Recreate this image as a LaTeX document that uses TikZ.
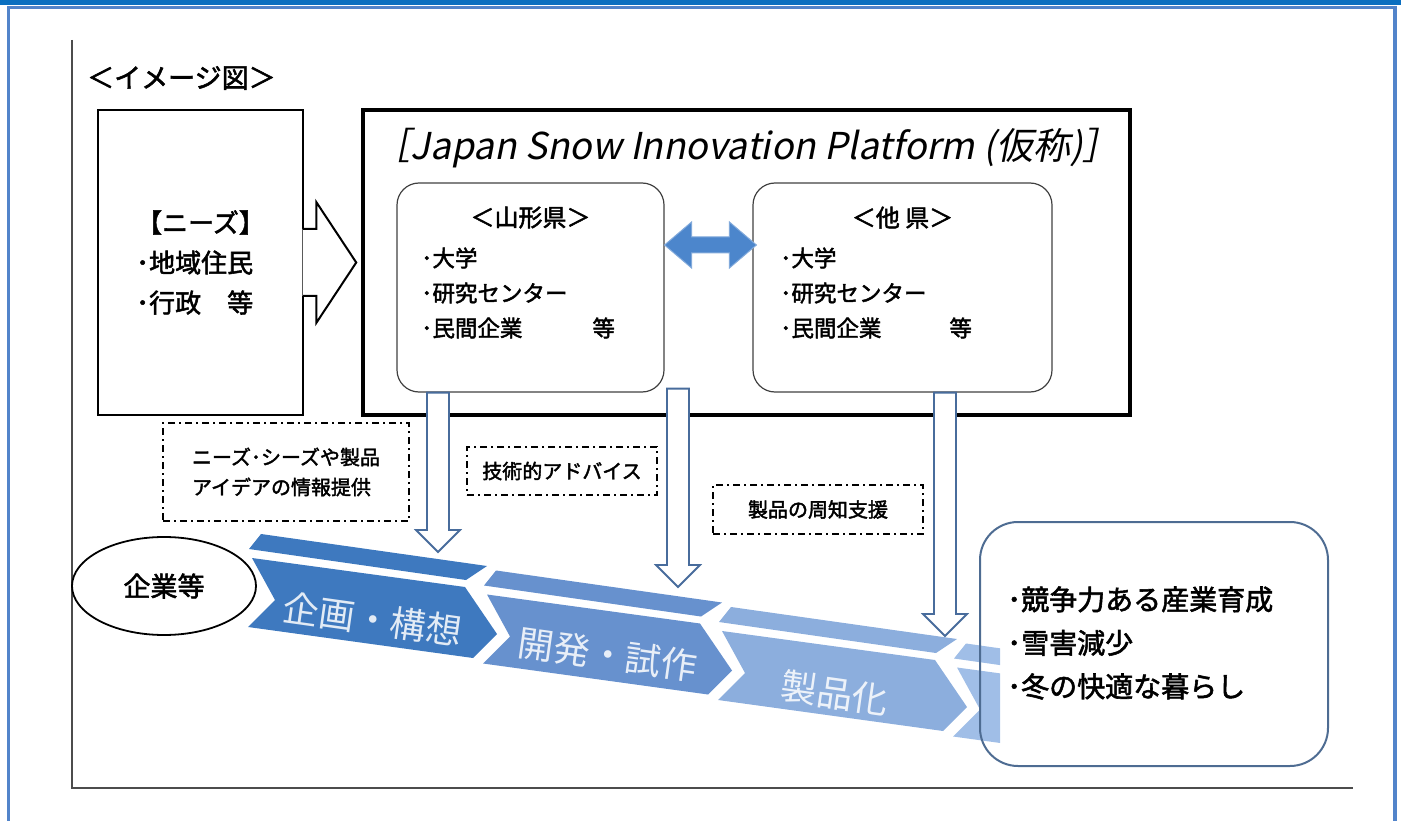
\documentclass[tikz,border=0pt]{standalone}
\usepackage{fontspec}
\setmainfont{Noto Sans CJK JP}
\newfontfamily\slantjp[FakeSlant=0.2]{Noto Sans CJK JP}
\newfontfamily\heavyjp[FakeBold=2]{Noto Sans CJK JP}
\usetikzlibrary{positioning,calc,shapes.geometric}

\definecolor{barblue}{RGB}{10,111,192}
\definecolor{frameblue}{RGB}{82,132,202}
\definecolor{chevA}{RGB}{62,121,191}
\definecolor{chevB}{RGB}{103,145,206}
\definecolor{chevC}{RGB}{140,174,221}
\definecolor{chevD}{RGB}{160,190,231}
\definecolor{arrowline}{RGB}{72,108,156}
\definecolor{linkblue}{RGB}{76,134,204}
\definecolor{resline}{RGB}{78,108,146}

\newcommand\hollowdown[2]{%
  \draw[hollowarrow] ($(#1)+(-11,0)$) -- ($(#2)+(-11,-22)$) -- ($(#2)+(-22,-22)$) -- (#2)
    -- ($(#2)+(22,-22)$) -- ($(#2)+(11,-22)$) -- ($(#1)+(11,0)$) -- cycle;}

\tikzset{
  needbox/.style={draw, line width=2pt, minimum width=205pt, minimum height=305pt, align=left, inner sep=0pt, font=\heavyjp\fontsize{26}{40}\selectfont},
  platbox/.style={draw, line width=3.5pt, minimum width=767pt, minimum height=305pt},
  prefbox/.style={draw=black!75, line width=1.2pt, rounded corners=22pt, minimum height=209pt},
  preftitle/.style={inner sep=0pt, font=\heavyjp\fontsize{24}{24}\selectfont},
  preflist/.style={anchor=west, inner sep=0pt, align=left, font=\heavyjp\fontsize{22.5}{35}\selectfont},
  hintbox/.style={draw, line width=1.4pt, dash pattern=on 7pt off 4pt on 2pt off 4pt, inner sep=0pt, align=left, font=\heavyjp\fontsize{20}{30}\selectfont},
  stagetext/.style={text=white, text opacity=0.85, rotate=-8, inner sep=0pt, font=\fontsize{36}{36}\selectfont},
  hollowarrow/.style={draw=arrowline, line width=1.8pt, fill=white},
  resbox/.style={draw=resline, line width=2pt, rounded corners=38pt, minimum width=348pt, minimum height=244pt},
}

\begin{document}
\begin{tikzpicture}[x=1pt, y=-1pt, line join=miter]
\useasboundingbox (0,0) rectangle (1401,821);
% page frame
\draw[frameblue, line width=3.5pt] (8.5,821) -- (8.5,7.5) -- (1395,7.5) -- (1395,821);
\fill[barblue] (0,0) rectangle (1401,5.5);
\draw[black!70, line width=2pt] (72,40) -- (72,788) -- (1353,788);
\node[anchor=west, inner sep=0pt, font=\heavyjp\fontsize{27}{27}\selectfont] (ttl) at (87,78) {＜イメージ図＞};

% stages
\foreach \i/\col in {0/chevA,1/chevB,2/chevC}{
  \begin{scope}[shift={(235*\i,36.5*\i)}]
    \fill[\col] (261,534) -- (487,566) -- (466,580) -- (249,549) -- cycle;
    \fill[\col] (252,558) -- (465,587) -- (497,634) -- (473,658) -- (248,627) -- (275,600) -- cycle;
  \end{scope}
}
\begin{scope}
  \clip (0,0) rectangle (1000,821);
  \begin{scope}[shift={(705,109.5)}]
    \fill[chevD] (261,534) -- (487,566) -- (466,580) -- (249,549) -- cycle;
    \fill[chevD] (252,558) -- (465,587) -- (497,634) -- (473,658) -- (248,627) -- (275,600) -- cycle;
  \end{scope}
\end{scope}
\node[stagetext] (plan) at (373,619) {企画・構想};
\node[stagetext] (dev) at (608,655) {開発・試作};
\node[stagetext] (prod) at (835,693) {製品化};

% needs and platform
\node[needbox] (needs) at (200.5,262.5) {【ニーズ】\\･地域住民\\･行政　等};
\node[platbox] (plat) at (746.5,262.5) {};
\node[inner sep=0pt, font=\slantjp\fontsize{37}{37}\selectfont] (pname) [below=20pt of plat.north] {［Japan Snow Innovation Platform (仮称)］};
\coordinate (ntip) at ($(plat.west)+(-5,0)$);
\fill[white] ($(needs.east)+(-1.5,-33.5)$) -- ($(ntip)+(-40,-33.5)$) -- ($(ntip)+(-40,-60.5)$) -- (ntip)
  -- ($(ntip)+(-40,60.5)$) -- ($(ntip)+(-40,33.5)$) -- ($(needs.east)+(-1.5,33.5)$) -- cycle;
\draw[line width=2pt] ($(needs.east)+(-1,-33.5)$) -- ($(ntip)+(-40,-33.5)$) -- ($(ntip)+(-40,-60.5)$) -- (ntip)
  -- ($(ntip)+(-40,60.5)$) -- ($(ntip)+(-40,33.5)$) -- ($(needs.east)+(-1,33.5)$);

% prefectures
\node[prefbox, minimum width=267pt] (yam) at (530.5,287.5) {};
\node[prefbox, minimum width=299pt] (oth) at (902.5,287.5) {};
\node[preftitle] (yamt) [below=24pt of yam.north] {＜山形県＞};
\node[preftitle] (otht) [below=24pt of oth.north] {＜他 県＞};
\node[preflist] (yaml) at (421,293) {･大学\\･研究センター\\･民間企業\hspace{70pt}等};
\node[preflist] (othl) at (780,293) {･大学\\･研究センター\\･民間企業\hspace{68pt}等};
\coordinate (dl) at ($(yam.east)+(0,-42.5)$);
\coordinate (dr) at ($(oth.west)+(4,-42.5)$);
\filldraw[fill=linkblue, draw=linkblue!70!white, line width=1pt] (dl) -- ($(dl)+(27,-23)$) -- ($(dl)+(27,-8)$)
  -- ($(dr)+(-27,-8)$) -- ($(dr)+(-27,-23)$) -- (dr) -- ($(dr)+(-27,23)$) -- ($(dr)+(-27,8)$)
  -- ($(dl)+(27,8)$) -- ($(dl)+(27,23)$) -- cycle;

% support arrows
\coordinate (t1) at (438,552);
\coordinate (t2) at (678,587);
\coordinate (t3) at (945,636);
\coordinate (s1) at (t1 |- yam.south);
\coordinate (s2) at ($(t2 |- yam.south)+(0,-4)$);
\coordinate (s3) at (t3 |- oth.south);
\hollowdown{s1}{t1}
\hollowdown{s2}{t2}
\hollowdown{s3}{t3}
\node[hintbox, minimum width=246pt, minimum height=98pt] (h1) at (286,472) {ニーズ･シーズや製品\\アイデアの情報提供};
\node[hintbox, minimum width=190pt, minimum height=48pt] (h2) at (562,471) {技術的アドバイス};
\node[hintbox, minimum width=210pt, minimum height=49pt] (h3) at (818,509.5) {製品の周知支援};

% firms and results
\node[ellipse, draw, fill=white, line width=1.8pt, minimum width=184pt, minimum height=98pt, inner sep=0pt,
  font=\heavyjp\fontsize{27}{27}\selectfont] (firm) at (164,586) {企業等};
\node[resbox] (res) at (1154,644) {};
\node[anchor=west, inner sep=0pt, align=left, font=\heavyjp\fontsize{28}{43.5}\selectfont] (resl) at (1007,643)
  {･競争力ある産業育成\\･雪害減少\\･冬の快適な暮らし};
\end{tikzpicture}
\end{document}
